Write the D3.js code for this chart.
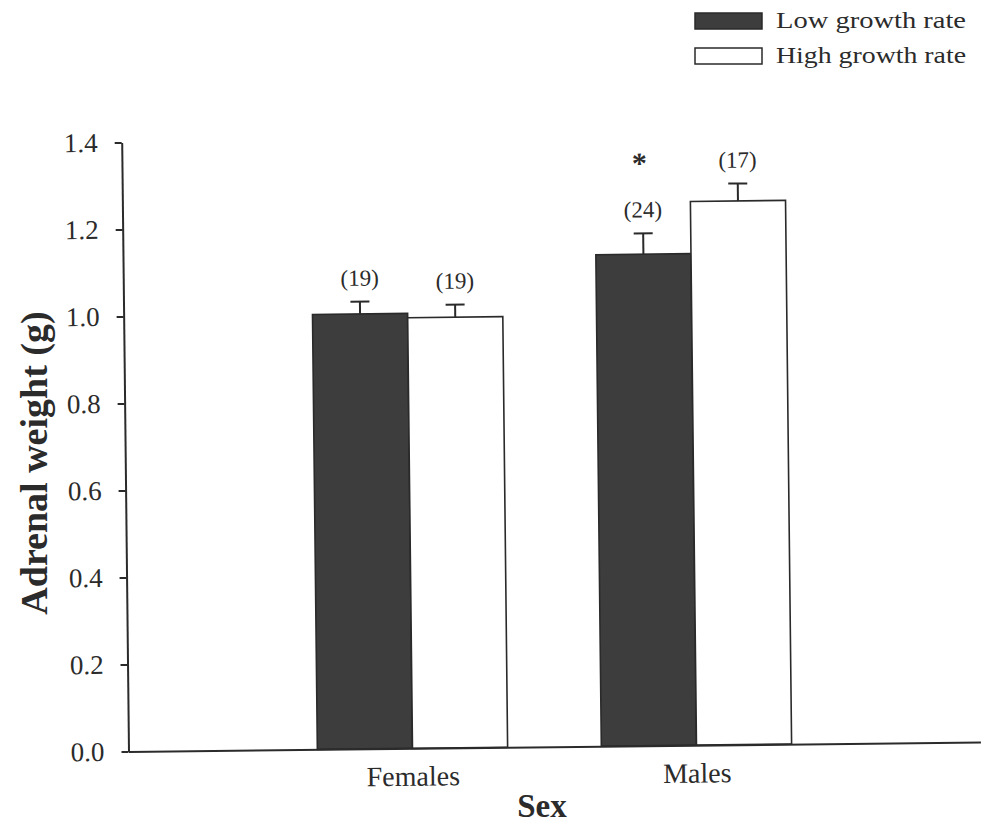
<!DOCTYPE html>
<html>
<head>
<meta charset="utf-8">
<script src="https://cdn.jsdelivr.net/npm/d3@7"></script>
<style>
  body { margin: 0; background: #fff; }
  svg { display: block; }
</style>
</head>
<body>
<svg id="chart" width="982" height="824"></svg>
<script>
// Adrenal weight by sex and growth-rate group (mean ± SE, n in brackets)
const categories = ["Females", "Males"];
const seriesNames = ["Low growth rate", "High growth rate"];
const lowMeans = [1.00, 1.13];
const lowErrors = [0.028, 0.048];
const lowCounts = [19, 24];
const highMeans = [0.99, 1.25];
const highErrors = [0.029, 0.040];
const highCounts = [19, 17];
const lowSignificant = [false, true];
const yTicks = [0, 0.2, 0.4, 0.6, 0.8, 1.0, 1.2, 1.4];

const FONT = "'Liberation Serif', 'Times New Roman', serif";
const INK = "#2b2b2b";
const DARK = "#3d3d3d";

const svg = d3.select("#chart");

// plot frame: origin at the axis corner, with a slight counter-clockwise tilt
const origin = { x: 128.5, y: 751.5 };
const tilt = -0.64;
const axisLength = 852;
const plotHeight = 609;

const plot = svg.append("g")
  .attr("transform", `translate(${origin.x},${origin.y}) rotate(${tilt})`);

const x = d3.scalePoint().domain(categories).range([0, axisLength]).padding(1);
const y = d3.scaleLinear().domain([0, 1.4]).range([0, -plotHeight]);
const barWidth = x.step() * 0.335;

const rows = categories.flatMap((c, i) => [
  { cat: c, s: 0, mean: lowMeans[i], err: lowErrors[i], n: lowCounts[i], sig: lowSignificant[i] },
  { cat: c, s: 1, mean: highMeans[i], err: highErrors[i], n: highCounts[i], sig: false }
]);
const barX = d => x(d.cat) + (d.s === 0 ? -barWidth : 0);
const barMid = d => barX(d) + barWidth / 2;

// bars
plot.selectAll("rect.bar").data(rows).join("rect")
  .attr("class", "bar")
  .attr("x", barX)
  .attr("width", barWidth)
  .attr("y", d => y(d.mean))
  .attr("height", d => y(0) - y(d.mean))
  .attr("fill", d => d.s === 0 ? DARK : "#fff")
  .attr("stroke", "#2a2a2a")
  .attr("stroke-width", 1.6);

// error bars (upper half only)
const eb = plot.selectAll("g.err").data(rows).join("g").attr("class", "err")
  .attr("stroke", "#2a2a2a").attr("stroke-width", 2);
eb.append("line")
  .attr("x1", barMid).attr("x2", barMid)
  .attr("y1", d => y(d.mean)).attr("y2", d => y(d.mean + d.err));
eb.append("line")
  .attr("x1", d => barMid(d) - 9.5).attr("x2", d => barMid(d) + 9.5)
  .attr("y1", d => y(d.mean + d.err)).attr("y2", d => y(d.mean + d.err));

// sample sizes
plot.selectAll("text.n").data(rows).join("text")
  .attr("class", "n")
  .attr("x", barMid)
  .attr("y", d => y(d.mean + d.err) - 16)
  .attr("text-anchor", "middle")
  .attr("font-family", FONT).attr("font-size", 23).attr("fill", INK)
  .text(d => `(${d.n})`);

// significance marker
plot.selectAll("text.sig").data(rows.filter(d => d.sig)).join("text")
  .attr("class", "sig")
  .attr("x", d => barMid(d) - 3)
  .attr("y", d => y(d.mean + d.err) - 60)
  .attr("text-anchor", "middle")
  .attr("font-family", FONT).attr("font-size", 30).attr("font-weight", "bold").attr("fill", INK)
  .text("*");

// y axis
const yAxis = plot.append("g")
  .call(d3.axisLeft(y).tickValues(yTicks).tickFormat(d3.format(".1f"))
    .tickSize(7).tickSizeOuter(0).tickPadding(17));
yAxis.select(".domain").attr("stroke", INK).attr("stroke-width", 2);
yAxis.selectAll(".tick line").attr("stroke", INK).attr("stroke-width", 2);
yAxis.selectAll(".tick text")
  .attr("font-family", FONT).attr("font-size", 27).attr("fill", INK);

// x axis
const xAxis = plot.append("g")
  .call(d3.axisBottom(x).tickSize(0).tickSizeOuter(0).tickPadding(17.5));
xAxis.select(".domain").attr("stroke", INK).attr("stroke-width", 2);
xAxis.selectAll(".tick text")
  .attr("font-family", FONT).attr("font-size", 28).attr("fill", INK);

// axis titles
svg.append("text")
  .attr("x", 542).attr("y", 817)
  .attr("text-anchor", "middle")
  .attr("font-family", FONT).attr("font-size", 33).attr("font-weight", "bold").attr("fill", INK)
  .text("Sex");

svg.append("text")
  .attr("transform", "translate(47,463) rotate(-90)")
  .attr("text-anchor", "middle")
  .attr("font-family", FONT).attr("font-size", 38).attr("font-weight", "bold").attr("fill", INK)
  .text("Adrenal weight (g)");

// legend
const legend = svg.append("g").attr("transform", "translate(695,13)");
const legendRows = legend.selectAll("g").data(seriesNames).join("g")
  .attr("transform", (d, i) => `translate(0,${i * 35})`);
legendRows.append("rect")
  .attr("x", 0).attr("y", 0).attr("width", 67).attr("height", 16)
  .attr("fill", (d, i) => i === 0 ? DARK : "#fff")
  .attr("stroke", "#2a2a2a").attr("stroke-width", 1.5);
legendRows.append("text")
  .attr("x", 81).attr("y", 15)
  .attr("font-family", FONT).attr("font-size", 24).attr("fill", INK)
  .attr("textLength", 190).attr("lengthAdjust", "spacingAndGlyphs")
  .text(d => d);
</script>
</body>
</html>
